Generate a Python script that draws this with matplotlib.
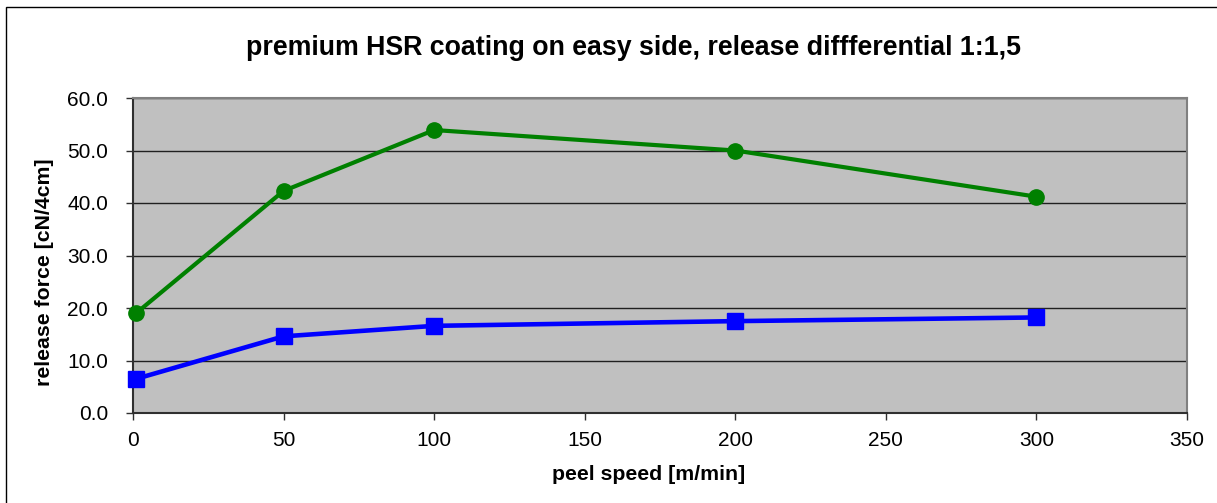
import matplotlib
matplotlib.use('Agg')
import matplotlib.pyplot as plt
from matplotlib.patches import Rectangle

plt.rcParams['font.family'] = ['Liberation Sans', 'DejaVu Sans']

# data
peel_speed = [1, 50, 100, 200, 300]
force_green = [19.0, 42.3, 53.9, 50.0, 41.2]
force_blue = [6.5, 14.6, 16.6, 17.5, 18.2]

x_ticks = [0, 50, 100, 150, 200, 250, 300, 350]
y_ticks = [0, 10, 20, 30, 40, 50, 60]

W, H = 1217, 503
fig = plt.figure(figsize=(W / 100, H / 100), dpi=100)
fig.patch.set_facecolor('white')

# outer chart frame (right and bottom edges fall outside the image)
fig.patches.append(Rectangle((6 / W, -0.1), 1.2, 1.1 - 7 / H, transform=fig.transFigure,
                             fill=False, edgecolor='black', linewidth=1.0))

ax = fig.add_axes([133 / W, 1 - 413 / H, (1187 - 133) / W, (413 - 98) / H])
ax.set_facecolor('#c0c0c0')

ax.plot(peel_speed, force_green, color='#008000', linewidth=3, marker='o',
        markersize=11, zorder=3, clip_on=False)
ax.plot(peel_speed, force_blue, color='#0000ff', linewidth=3.3, marker='s',
        markersize=11, zorder=3, clip_on=False)

ax.set_xlim(0, 350)
ax.set_ylim(0, 60)
ax.set_xticks(x_ticks)
ax.set_yticks(y_ticks)
ax.set_yticklabels(['%.1f' % v for v in y_ticks])
ax.yaxis.grid(True, color='#202020', linewidth=1.0)
ax.set_axisbelow(True)

for s in ['top', 'right']:
    ax.spines[s].set_color('#808080')
    ax.spines[s].set_linewidth(1.5)
for s in ['left', 'bottom']:
    ax.spines[s].set_color('#303030')
    ax.spines[s].set_linewidth(1.5)

ax.tick_params(direction='out', length=5, width=1, color='#303030',
               labelsize=15)
ax.tick_params(axis='y', pad=13)
ax.tick_params(axis='x', pad=8)

ax.set_xlabel('peel speed [m/min]', fontsize=15.3, fontweight='bold')
ax.set_ylabel('release force [cN/4cm]', fontsize=15.3, fontweight='bold')
ax.xaxis.set_label_coords(649 / W, 1 - 465 / H, transform=fig.transFigure)
ax.yaxis.set_label_coords(54 / W, 1 - 272 / H, transform=fig.transFigure)
fig.text(634 / W, 1 - 48 / H,
         'premium HSR coating on easy side, release diffferential 1:1,5',
         ha='center', va='center', fontsize=19.3, fontweight='bold')

fig.savefig('out.png', dpi=100)
